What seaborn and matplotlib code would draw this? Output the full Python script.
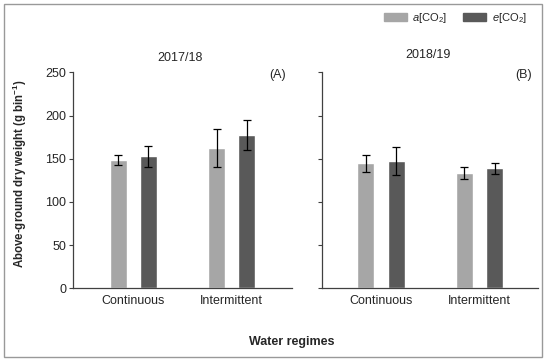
import pandas as pd
import matplotlib
matplotlib.use('Agg')
import matplotlib.pyplot as plt
from matplotlib.patches import Patch, Rectangle
import seaborn as sns

# data
regimes = ['Continuous', 'Intermittent']
co2_levels = ['a[CO2]', 'e[CO2]']
seasons = ['2017/18', '2018/19']
panel_tags = ['(A)', '(B)']

# mean per season, [a, e] for each regime
mean_1718_a = [148.5, 162.0]
mean_1718_e = [152.8, 177.4]
mean_1819_a = [144.7, 133.1]
mean_1819_e = [147.3, 138.9]
err_1718_a = [6.1, 22.0]
err_1718_e = [12.2, 17.4]
err_1819_a = [9.9, 6.8]
err_1819_e = [16.4, 6.4]

yticks = [0, 50, 100, 150, 200, 250]

rows = []
for season, ma, me, ea, ee in [(seasons[0], mean_1718_a, mean_1718_e, err_1718_a, err_1718_e),
                               (seasons[1], mean_1819_a, mean_1819_e, err_1819_a, err_1819_e)]:
    for i, r in enumerate(regimes):
        rows.append(dict(season=season, regime=r, co2=co2_levels[0], value=ma[i], err=ea[i]))
        rows.append(dict(season=season, regime=r, co2=co2_levels[1], value=me[i], err=ee[i]))
df = pd.DataFrame(rows)

sns.set_style('ticks')
plt.rcParams['font.family'] = ['Liberation Sans', 'DejaVu Sans']
plt.rcParams['mathtext.fontset'] = 'custom'
plt.rcParams['mathtext.rm'] = 'Liberation Sans'
plt.rcParams['mathtext.it'] = 'Liberation Sans:italic'
plt.rcParams['mathtext.bf'] = 'Liberation Sans:bold'

colors = ['#a6a6a6', '#595959']
axis_col = '#404040'

fig = plt.figure(figsize=(5.5, 3.62), dpi=100)
ax1 = fig.add_axes([73.3 / 550, 1 - 288.3 / 362, (292 - 73.3) / 550, 216 / 362])
ax2 = fig.add_axes([322.3 / 550, 1 - 288.3 / 362, (538 - 322.3) / 550, 216 / 362])
xlims = [(-0.614, 1.617), (-0.596, 1.594)]
title_y = [1.065, 1.080]

for k, ax in enumerate([ax1, ax2]):
    sub = df[df.season == seasons[k]]
    sns.barplot(data=sub, x='regime', y='value', hue='co2', order=regimes,
                hue_order=co2_levels, palette=colors, width=0.612, gap=0.435,
                errorbar=None, legend=False, ax=ax, saturation=1)
    bar_groups = list(ax.containers)
    for j, cont in enumerate(bar_groups):
        for i, bar in enumerate(cont):
            e = sub[(sub.regime == regimes[i]) & (sub.co2 == co2_levels[j])]['err'].iloc[0]
            ax.errorbar(bar.get_x() + bar.get_width() / 2, bar.get_height(), yerr=e,
                        fmt='none', ecolor='black', elinewidth=0.9, capsize=2.8, capthick=0.9)
    ax.set_ylim(0, 250)
    ax.set_xlim(*xlims[k])
    ax.set_yticks(yticks)
    ax.set_xlabel('')
    ax.set_ylabel('')
    sns.despine(ax=ax)
    for s in ['left', 'bottom']:
        ax.spines[s].set_color(axis_col)
        ax.spines[s].set_linewidth(0.9)
    ax.tick_params(axis='y', length=3, width=0.8, color=axis_col, labelsize=9, pad=2)
    ax.tick_params(axis='x', length=0, labelsize=9, pad=5)
    ax.text(0.488, title_y[k], seasons[k], transform=ax.transAxes, ha='center', va='center', fontsize=9)
    ax.text(0.972, 0.986, panel_tags[k], transform=ax.transAxes, ha='right', va='center', fontsize=9)

ax2.set_yticklabels([])

fig.text(20 / 550, 1 - 174 / 362, 'Above-ground dry weight (g bin$^{\\mathbf{-1}}$)',
         rotation=90, ha='center', va='center', fontsize=8.3, fontweight='bold')
fig.text(292 / 550, 1 - 341.6 / 362, 'Water regimes', ha='center', va='center',
         fontsize=9, fontweight='bold')

handles = [Patch(color=colors[0]), Patch(color=colors[1])]
labels = ['$a$[CO$_2$]', '$e$[CO$_2$]']
fig.legend(handles, labels, ncol=2, frameon=False, fontsize=8,
           loc='center right', bbox_to_anchor=(537 / 550, 1 - 18 / 362),
           handlelength=2.1, handleheight=0.65, columnspacing=1.4, handletextpad=0.5)

fig.patches.append(Rectangle((4 / 550, 1 - 357 / 362), 537.5 / 550, 353 / 362,
                             transform=fig.transFigure, fill=False,
                             edgecolor='#999999', linewidth=1))

fig.savefig('out.png', dpi=100)
